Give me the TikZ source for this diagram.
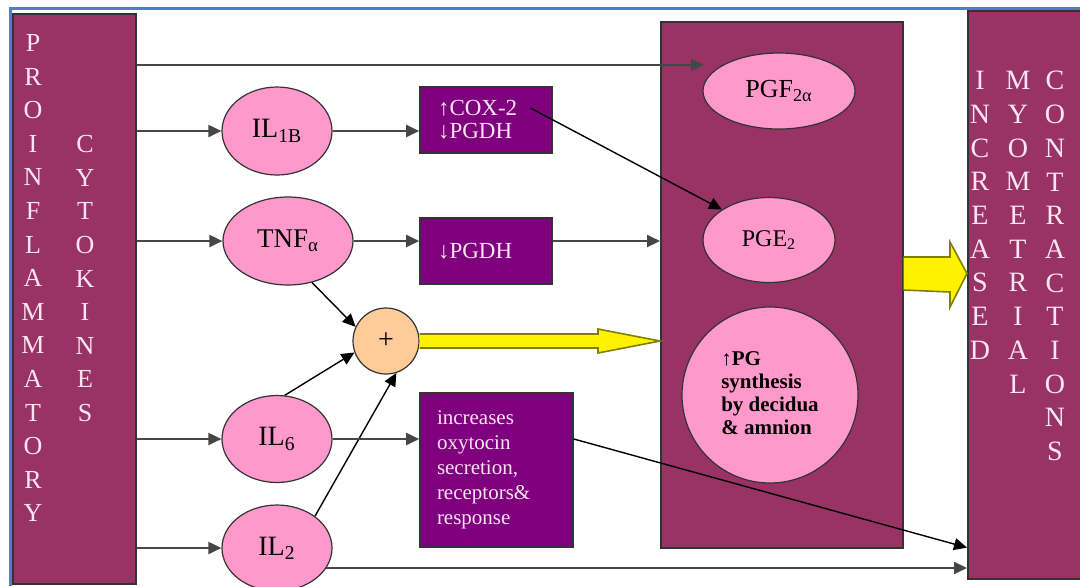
\documentclass[tikz,border=0pt]{standalone}
\usepackage{fontspec}
\setmainfont{Liberation Serif}
\usetikzlibrary{shapes.geometric,calc,arrows.meta}

\definecolor{plum}{HTML}{993366}
\definecolor{grape}{HTML}{7F007F}
\definecolor{rosepink}{HTML}{FF99CC}
\definecolor{peach}{HTML}{FFCC99}
\definecolor{frameblue}{HTML}{4F81BD}
\definecolor{arrowrim}{HTML}{808000}
\definecolor{paletext}{HTML}{FCE4F0}

\tikzset{
  panel/.style={draw=black!80, fill=plum, line width=0.8pt, inner sep=0pt, anchor=north west},
  letters/.style={text=paletext, align=center, inner sep=0pt, anchor=north},
  cyto/.style={ellipse, draw=black!80, fill=rosepink, inner sep=0pt, line width=0.6pt},
  effect/.style={draw=black!80, fill=grape, text=paletext, inner sep=0pt, align=left, line width=0.8pt},
  feed/.style={->, gray!55!black, line width=1pt},
  link/.style={->, black, line width=0.7pt},
  bigarrow/.style={draw=arrowrim, fill=yellow, line width=0.8pt, line join=miter},
}

\begin{document}
\begin{tikzpicture}[x=0.5pt, y=-0.5pt, >={Triangle[length=6.5pt, width=6pt]}]
    \useasboundingbox (0,0) rectangle (1080,586);
    \draw[frameblue, line width=1.5pt] (10,586) -- (10,8) -- (1080,8);

    % the three tall panels
    \node[panel, minimum width=61.5pt, minimum height=285pt] (cytokines) at (12,13) {};
    \node[panel, minimum width=121pt, minimum height=263pt] (pgbox) at (660,21) {};
    \node[panel, minimum width=60pt, minimum height=284pt] (contract) at (967,10) {};

    \node[letters, font=\fontsize{13}{16.8}\selectfont] (prolabel) at (33,34) {P\\R\\O\\I\\N\\F\\L\\A\\M\\M\\A\\T\\O\\R\\Y};
    \node[letters, font=\fontsize{13}{16.8}\selectfont] (cytlabel) at (85,135) {C\\Y\\T\\O\\K\\I\\N\\E\\S};
    \node[letters, font=\fontsize{14}{16.85}\selectfont] (inclabel) at (980,71) {I\\N\\C\\R\\E\\A\\S\\E\\D};
    \node[letters, font=\fontsize{14}{16.85}\selectfont] (myolabel) at (1018,71) {M\\Y\\O\\M\\E\\T\\R\\I\\A\\L};
    \node[letters, font=\fontsize{14}{16.85}\selectfont] (conlabel) at (1055,71) {C\\O\\N\\T\\R\\A\\C\\T\\I\\O\\N\\S};

    % cytokines
    \node[cyto, minimum width=55pt, minimum height=44pt, font=\fontsize{14}{14}\selectfont] (ilb) at (277,131) {IL\textsubscript{1B}};
    \node[cyto, minimum width=65pt, minimum height=44pt, font=\fontsize{13.5}{14}\selectfont] (tnf) at (288,241) {TNF\textsubscript{α}};
    \node[cyto, minimum width=55pt, minimum height=43.5pt, font=\fontsize{14}{14}\selectfont] (ilsix) at (277,439) {IL\textsubscript{6}};
    \node[cyto, minimum width=55pt, minimum height=43pt, font=\fontsize{14}{14}\selectfont] (iltwo) at (277,548) {IL\textsubscript{2}};
    \node[circle, draw=black!80, fill=peach, minimum size=33pt, inner sep=0pt, line width=0.6pt, font=\fontsize{14}{14}\selectfont] (plus) at (386,341) {+};

    % effects
    \node[effect, minimum width=66pt, minimum height=33pt, text width=48pt, font=\fontsize{11.5}{11.5}\selectfont] (cox) at (486,120) {↑COX-2\\↓PGDH};
    \node[effect, minimum width=66pt, minimum height=33pt, text width=48pt, font=\fontsize{11.5}{12}\selectfont] (pgdh) at (486,251) {↓PGDH};
    \node[effect, minimum width=76.5pt, minimum height=77pt, text width=59.5pt, font=\fontsize{10.5}{12.5}\selectfont] (oxy) at (496.5,470) {increases\\oxytocin\\secretion,\\receptors\&\\response};

    % prostaglandins
    \node[cyto, minimum width=76pt, minimum height=38pt, font=\fontsize{13}{14}\selectfont] (pgf) at (779,91) {PGF\textsubscript{2α}};
    \node[cyto, minimum width=66pt, minimum height=42.5pt, font=\fontsize{12}{14}\selectfont] (pge) at (769,240) {PGE\textsubscript{2}};
    \node[circle, draw=black!80, fill=rosepink, minimum size=88pt, inner sep=0pt, line width=0.6pt, font=\bfseries\fontsize{10.5}{11.5}\selectfont] (pgsyn) at (770,395) {\raisebox{4.5pt}{\begin{tabular}{@{}l@{}}↑PG\\synthesis\\by decidua\\\& amnion\end{tabular}}};

    \coordinate (pgfin) at (704,65);
    \coordinate (surge) at (967,273.5);

    \draw[feed] (cytokines.east |- pgfin) -- (pgfin);
    \draw[feed] (cytokines.east |- ilb) -- (ilb.west);
    \draw[feed] (ilb.east) -- (ilb.east -| cox.west);
    \draw[link] ($(cox.north east)+(-22,22)$) -- (pge.north west);
    \draw[feed] (cytokines.east |- tnf) -- (tnf.west);
    \draw[feed] (tnf.east) -- (tnf.east -| pgdh.west);
    \draw[feed] (pgdh.east |- tnf) -- (tnf -| pgbox.west);
    \draw[link] (tnf.300) -- (plus.155);
    \draw[link] (ilsix.80) -- (plus.200);
    \draw[link] (iltwo.40) -- (plus.288);
    \draw[feed] (cytokines.east |- ilsix) -- (ilsix.west);
    \draw[feed] (ilsix.east) -- (ilsix.east -| oxy.west);
    \draw[link] (oxy.east |- ilsix) -- ($(contract.south west)+(0,-32)$);
    \draw[feed] (cytokines.east |- iltwo) -- (iltwo.west);
    \draw[feed] (iltwo.-22) -- (iltwo.-22 -| contract.west);

    % yellow arrows
    \draw[bigarrow] ($(plus.east)+(0,-7)$) -- ($(plus.east -| pgbox.west)+(-62,-7)$) -- ++(0,-5)
        -- (plus.east -| pgbox.west) -- ($(plus.east -| pgbox.west)+(-62,12)$) -- ++(0,-5)
        -- ($(plus.east)+(0,7)$);
    \draw[bigarrow] ($(pgbox.east |- surge)+(0,-16.5)$) -- ($(surge)+(-17,-16.5)$) -- ++(0,-15)
        -- (surge) -- ($(surge)+(-17,33.5)$) -- ++(0,-15) -- ($(pgbox.east |- surge)+(0,16.5)$);
\end{tikzpicture}
\end{document}
